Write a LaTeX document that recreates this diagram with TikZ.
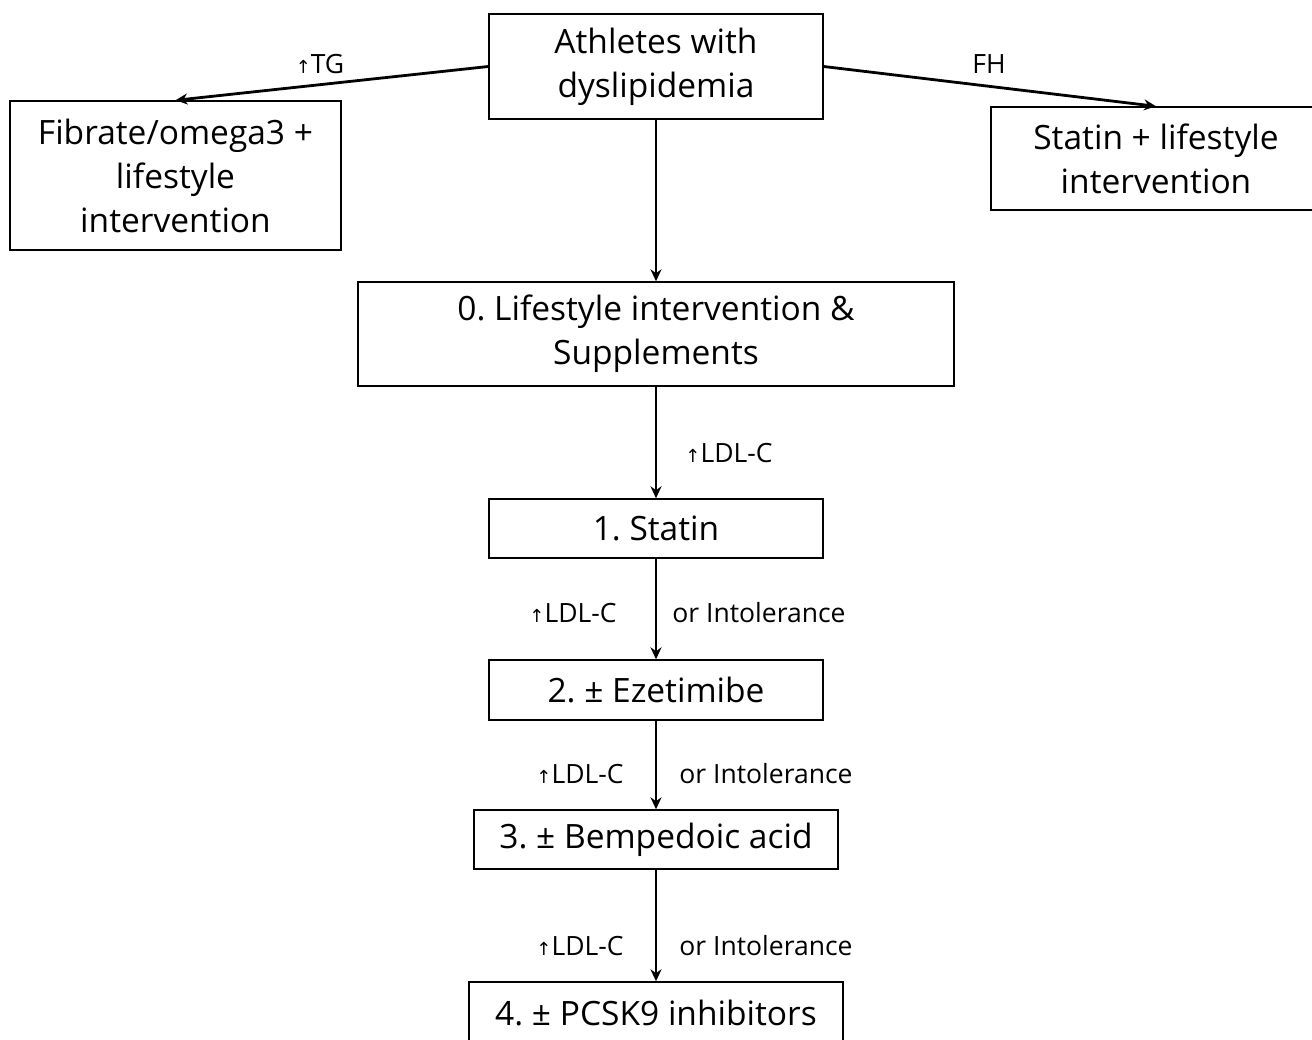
\documentclass[tikz,border=0pt]{standalone}
\usepackage{fontspec}
\setmainfont{Open Sans}
\newfontfamily\arrowfont{DejaVu Sans}
\usetikzlibrary{arrows.meta}
\newcommand{\incr}{{\arrowfont\fontsize{18}{18}\selectfont ↑}}
\frenchspacing

\begin{document}
\begin{tikzpicture}[x=1pt, y=-1pt,
	box/.style={draw, line width=1.4pt, align=center, inner sep=0pt, font=\fontsize{33.5}{44}\selectfont},
	lbl/.style={inner sep=0pt, font=\fontsize{26.5}{28}\selectfont},
	link/.style={line width=2.8pt, -{Stealth[length=12pt,width=11pt]}}]
			\useasboundingbox (0,0) rectangle (1312,1040);
			\node [box, minimum width=334pt, minimum height=105pt] (athletes) at (656,66.5) {Athletes with\\dyslipidemia};
			\node [box, minimum width=331pt, minimum height=149pt] (fibrate) at (175.5,175.5) {Fibrate/omega3 +\\lifestyle\\intervention};
			\node [box, minimum width=330pt, minimum height=103pt] (statinfh) at (1156,158.5) {Statin + lifestyle\\intervention};
			\node [box, minimum width=596pt, minimum height=104pt] (lifestyle) at (656,334) {0. Lifestyle intervention \&\\Supplements};
			\node [box, minimum width=334pt, minimum height=59pt] (statin) at (656,528.5) {1. Statin};
			\node [box, minimum width=334pt, minimum height=60pt] (ezetimibe) at (656,690) {2. ± Ezetimibe};
			\node [box, minimum width=364pt, minimum height=59pt] (bempedoic) at (656,839.5) {3. ± Bempedoic acid};
			\node [box, minimum width=374pt, minimum height=62pt] (pcsk) at (656,1013) {4. ± PCSK9 inhibitors};
			\node [lbl] (tg) at (320,64) {\incr TG};
			\node [lbl] (fh) at (989,64) {FH};
			\node [lbl] (ldl0) at (729,453) {\incr LDL-C};
			\node [lbl] (ldl1) at (573,613) {\incr LDL-C};
			\node [lbl] (intol1) at (759,613) {or Intolerance};
			\node [lbl] (ldl2) at (580,774) {\incr LDL-C};
			\node [lbl] (intol2) at (766,774) {or Intolerance};
			\node [lbl] (ldl3) at (580,946) {\incr LDL-C};
			\node [lbl] (intol3) at (766,946) {or Intolerance};
			\draw [link] (athletes.west) -- (fibrate.north);
			\draw [link] (athletes.east) -- (statinfh.north);
			\draw [link] (athletes.south) -- (lifestyle.north);
			\draw [link] (lifestyle.south) -- (statin.north);
			\draw [link] (statin.south) -- (ezetimibe.north);
			\draw [link] (ezetimibe.south) -- (bempedoic.north);
			\draw [link] (bempedoic.south) -- (pcsk.north);
\end{tikzpicture}
\end{document}
